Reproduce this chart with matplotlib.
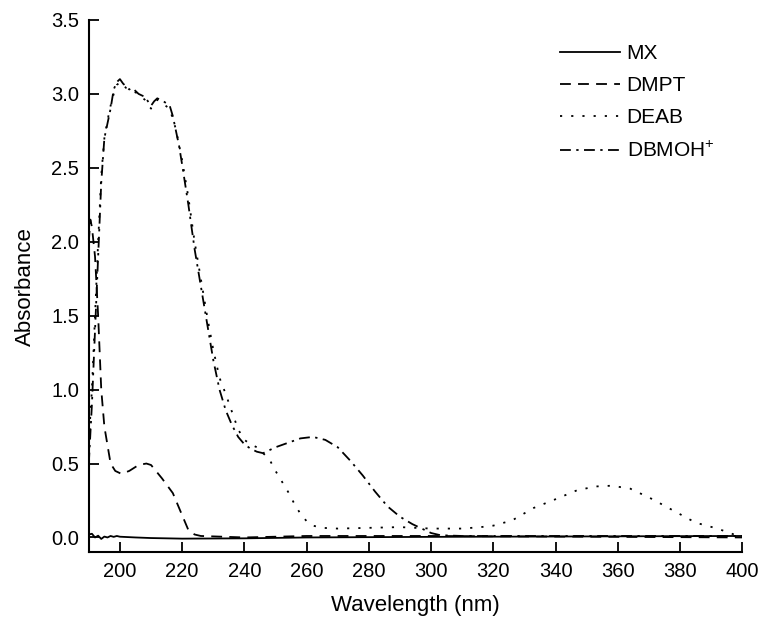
import matplotlib.pyplot as plt

plt.rcParams['font.family'] = ['Liberation Sans', 'DejaVu Sans']
plt.rcParams['mathtext.fontset'] = 'custom'
plt.rcParams['mathtext.rm'] = 'Liberation Sans'

# --- spectra (wavelength in nm, absorbance) ---
mx_wl = [190, 191, 192, 193, 194, 195, 196, 197, 198, 199, 200, 205, 210,
         220, 240, 260, 300, 350, 400]
mx_abs = [0.02, 0.025, 0.0, 0.012, -0.01, 0.006, 0.0, 0.01, 0.004, 0.01,
          0.005, 0.0, -0.004, -0.008, -0.006, 0.0, 0.004, 0.007, 0.01]

dmpt_wl = [190, 190.5, 191, 192, 193, 194, 195, 197, 198.5, 200.5, 203, 206,
           208.5, 210, 213.5, 217, 220, 222, 224, 226, 240, 260, 300, 400]
dmpt_abs = [2.0, 2.15, 2.1, 1.9, 1.5, 1.0, 0.75, 0.5, 0.45, 0.43, 0.45, 0.49,
            0.5, 0.49, 0.4, 0.3, 0.15, 0.05, 0.02, 0.01, 0.0, 0.01, 0.01, 0.0]

deab_wl = [190, 191, 192, 193, 194, 195, 196, 197, 198, 199, 200, 202, 204,
           206, 208, 210, 212, 214, 216, 218, 220, 222, 224, 226, 228, 230,
           232, 234, 236, 238, 240, 242, 244, 246, 248, 250, 252, 254, 256,
           258, 260, 262, 265, 270, 280, 290, 300, 310, 316, 320, 326, 333,
           339, 347, 353, 358, 364, 371, 378, 385, 392, 398, 400]
deab_abs = [0.65, 1.0, 1.5, 2.0, 2.45, 2.7, 2.82, 2.92, 3.0, 3.06, 3.08, 3.04,
            3.02, 3.0, 2.96, 2.9, 2.96, 2.93, 2.9, 2.76, 2.55, 2.3, 2.0, 1.75,
            1.5, 1.27, 1.08, 0.97, 0.85, 0.73, 0.66, 0.63, 0.61, 0.57, 0.53,
            0.45, 0.38, 0.31, 0.23, 0.16, 0.11, 0.08, 0.065, 0.06, 0.065,
            0.07, 0.06, 0.06, 0.07, 0.08, 0.115, 0.2, 0.25, 0.32, 0.345, 0.35,
            0.33, 0.26, 0.18, 0.1, 0.06, 0.015, 0.01]

dbmoh_wl = [190, 191, 192, 193, 194, 195, 196, 197, 198, 199, 200, 201, 202,
            203, 204, 205, 206, 208, 210, 211, 212, 214, 216, 217, 218, 219,
            220, 222, 224, 226, 228, 230, 232, 234, 236, 238, 240, 242, 244,
            246, 248, 250, 254, 258, 262, 266, 270, 274, 278, 282, 286, 290,
            294, 297, 300, 303, 310, 400]
dbmoh_abs = [0.5, 0.9, 1.4, 1.9, 2.4, 2.7, 2.8, 2.9, 3.03, 3.08, 3.1, 3.07,
             3.05, 3.03, 3.04, 3.02, 3.0, 2.98, 2.92, 2.95, 2.97, 2.95, 2.92,
             2.85, 2.75, 2.65, 2.52, 2.25, 1.95, 1.7, 1.45, 1.2, 1.0, 0.86,
             0.76, 0.68, 0.63, 0.6, 0.58, 0.57, 0.59, 0.61, 0.64, 0.67, 0.68,
             0.66, 0.61, 0.52, 0.42, 0.31, 0.21, 0.14, 0.09, 0.06, 0.03,
             0.015, 0.01, 0.01]

x_ticks = [200, 220, 240, 260, 280, 300, 320, 340, 360, 380, 400]
y_ticks = [0.0, 0.5, 1.0, 1.5, 2.0, 2.5, 3.0, 3.5]

fig = plt.figure(figsize=(7.59, 6.24), dpi=100)
ax = fig.add_axes([0.117, 0.115, 0.861, 0.853])

lw = 1.3
ax.plot(mx_wl, mx_abs, color='black', lw=lw, ls='-', label='MX')
ax.plot(dmpt_wl, dmpt_abs, color='black', lw=lw, ls=(0, (6, 4)), label='DMPT')
ax.plot(deab_wl, deab_abs, color='black', lw=lw, ls=(0, (1.2, 5)), label='DEAB')
ax.plot(dbmoh_wl, dbmoh_abs, color='black', lw=lw, ls=(0, (6, 3, 1.3, 3)),
        label='DBMOH$^{+}$')

ax.set_xlim(190, 400)
ax.set_ylim(-0.1, 3.5)
ax.set_xticks(x_ticks)
ax.set_yticks(y_ticks)
ax.set_yticklabels([f'{v:.1f}' for v in y_ticks])

for side in ['top', 'right']:
    ax.spines[side].set_visible(False)
for side in ['left', 'bottom']:
    ax.spines[side].set_linewidth(1.5)

ax.tick_params(direction='in', length=7, width=1.3, labelsize=14.5, pad=7)

ax.set_xlabel('Wavelength (nm)', fontsize=16, labelpad=10)
ax.set_ylabel('Absorbance', fontsize=16, labelpad=11)

ax.legend(loc='upper right', frameon=False, fontsize=15, handlelength=2.9,
          handletextpad=0.3, labelspacing=0.62, borderaxespad=0.0,
          bbox_to_anchor=(0.97, 0.97))

fig.savefig('out.png', dpi=100)
